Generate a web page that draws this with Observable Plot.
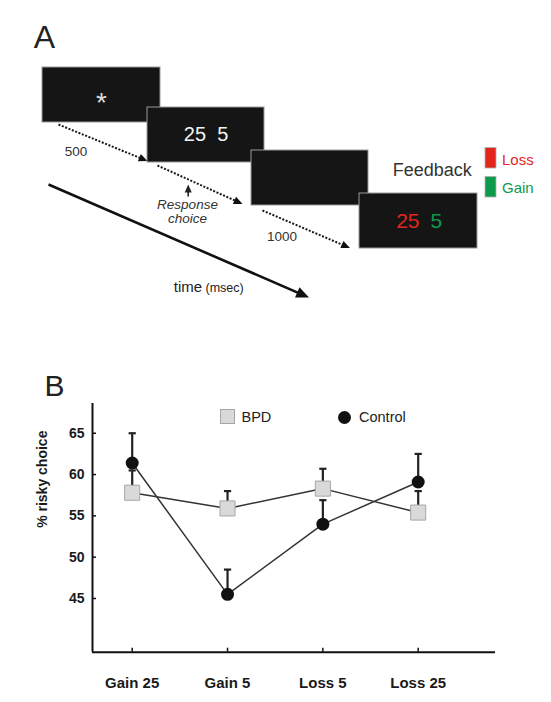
<!DOCTYPE html>
<html>
<head>
<meta charset="utf-8">
<script src="https://cdn.jsdelivr.net/npm/d3@7"></script>
<script src="https://cdn.jsdelivr.net/npm/@observablehq/plot@0.6"></script>
<style>
  body { margin: 0; background: #fff; font-family: "Liberation Sans", Arial, sans-serif; }
  #root { position: relative; width: 551px; height: 702px; overflow: hidden; background: #fff; }
  #panelA { position: absolute; left: 0; top: 0; }
  #panelB { position: absolute; left: 0; top: 330px; }
  .leg { position: absolute; font-size: 14.5px; color: #222; line-height: 1; }
  .sq { position: absolute; left: 220px; top: 409px; width: 13px; height: 13px; background: #d9d9d9; border: 1px solid #a6a6a6; }
  .ci { position: absolute; left: 338px; top: 410.5px; width: 13px; height: 13px; border-radius: 50%; background: #111; }
</style>
</head>
<body>
<div id="root">
  <div id="panelA"></div>
  <div id="panelB"></div>
  <div class="sq"></div>
  <div class="leg" style="left:241.5px; top:410px;">BPD</div>
  <div class="ci"></div>
  <div class="leg" style="left:359px; top:410px;">Control</div>
</div>
<script>
// ---------- Panel B data ----------
const conditions = ["Gain 25", "Gain 5", "Loss 5", "Loss 25"];
const bpdMean = [57.8, 55.9, 58.3, 55.4];
const bpdUpper = [60.5, 58.0, 60.7, 58.0];
const controlMean = [61.4, 45.5, 54.0, 59.1];
const controlUpper = [65.0, 48.5, 56.9, 62.5];
const yTicks = [45, 50, 55, 60, 65];

// ---------- Panel A schematic (figure layout units) ----------
const screens = [
  {x1: 42, y1: 67, x2: 160, y2: 122},
  {x1: 147, y1: 107, x2: 264, y2: 162},
  {x1: 251, y1: 150, x2: 368, y2: 205},
  {x1: 359, y1: 193, x2: 477, y2: 248}
];
const dottedArrows = [
  {x1: 58, y1: 124, x2: 147, y2: 160.5},
  {x1: 157, y1: 165, x2: 242, y2: 203.5},
  {x1: 262, y1: 210, x2: 349.5, y2: 247.5}
];
const timeArrow = [{x1: 48, y1: 184, x2: 308.5, y2: 297}];
const responseArrow = [{x1: 187.7, y1: 196, x2: 187.7, y2: 184}];
const stimulusTexts = [
  {s: 0, text: "*", color: "#dddddd", size: 28, dy: 8, anchor: "middle", dx: 0},
  {s: 1, text: "25\u00a0\u00a05", color: "#f2f2f2", size: 20, dy: 0, anchor: "middle", dx: 0},
  {s: 3, text: "25", color: "#e2261c", size: 21, dy: 0, anchor: "end", dx: 1},
  {s: 3, text: "5", color: "#0e9a4c", size: 21, dy: 0, anchor: "start", dx: 12}
];
const labelsA = [
  {x: 75.5, y: 151, text: "500", size: 13.5, anchor: "middle", color: "#333", style: "normal"},
  {x: 281.5, y: 236, text: "1000", size: 13.5, anchor: "middle", color: "#333", style: "normal"},
  {x: 187, y: 204.5, text: "Response", size: 13.5, anchor: "middle", color: "#333", style: "italic"},
  {x: 187, y: 218.5, text: "choice", size: 13.5, anchor: "middle", color: "#333", style: "italic"},
  {x: 431.7, y: 169.5, text: "Feedback", size: 18, anchor: "middle", color: "#333", style: "normal"},
  {x: 501.5, y: 159.5, text: "Loss", size: 15, anchor: "start", color: "#e2261c", style: "normal"},
  {x: 501.5, y: 187.5, text: "Gain", size: 15, anchor: "start", color: "#0e9a4c", style: "normal"},
  {x: 173.3, y: 287, text: "time", size: 15, anchor: "start", color: "#222", style: "normal"},
  {x: 205, y: 287.5, text: "(msec)", size: 12.5, anchor: "start", color: "#222", style: "normal"},
  {x: 44, y: 37, text: "A", size: 32, anchor: "middle", color: "#222", style: "normal"}
];
const feedbackKeys = [
  {x1: 485, y1: 147.5, x2: 496, y2: 168, color: "#e2261c"},
  {x1: 485, y1: 176.5, x2: 496, y2: 197, color: "#0e9a4c"}
];

const FONT = '"Liberation Sans", Arial, sans-serif';

// arrow head symbol: tip at origin, pointing to +x
const arrowHead = {
  draw(ctx, size) {
    const r = Math.sqrt(size / Math.PI);
    const L = 1.6 * r, W = 0.7 * r;
    ctx.moveTo(0, 0);
    ctx.lineTo(-L, -W);
    ctx.lineTo(-L, W);
    ctx.closePath();
  }
};
const capSymbol = {
  draw(ctx, size) {
    const r = Math.sqrt(size / Math.PI);
    ctx.moveTo(-r, 0);
    ctx.lineTo(r, 0);
  }
};
function withGeom(arr, r) {
  return arr.map(d => {
    const a = Math.atan2(d.y2 - d.y1, d.x2 - d.x1);
    const L = 1.6 * r;
    return {...d, angle: a * 180 / Math.PI, bx: d.x2 - (L - 0.5) * Math.cos(a), by: d.y2 - (L - 0.5) * Math.sin(a)};
  });
}
const dotted = withGeom(dottedArrows, 5.5);
const bigArrow = withGeom(timeArrow, 8);
const respArrow = withGeom(responseArrow, 5);
const stimRows = stimulusTexts.map(t => {
  const b = screens[t.s];
  return {...t, x: (b.x1 + b.x2) / 2, y: (b.y1 + b.y2) / 2};
});

const A = Plot.plot({
  width: 551, height: 330, margin: 0,
  x: {domain: [0, 551], range: [0, 551], axis: null},
  y: {domain: [0, 330], range: [0, 330], axis: null},
  style: {fontFamily: FONT, background: "transparent", overflow: "visible"},
  marks: [
    Plot.link(dotted, {x1: "x1", y1: "y1", x2: "bx", y2: "by", stroke: "#1a1a1a", strokeWidth: 2, strokeDasharray: "2,1.6"}),
    Plot.dot(dotted, {x: "x2", y: "y2", symbol: arrowHead, r: 5.5, rotate: "angle", fill: "#111", stroke: null}),
    Plot.link(bigArrow, {x1: "x1", y1: "y1", x2: "bx", y2: "by", stroke: "#111", strokeWidth: 2.6}),
    Plot.dot(bigArrow, {x: "x2", y: "y2", symbol: arrowHead, r: 8, rotate: "angle", fill: "#111", stroke: null}),
    Plot.link(respArrow, {x1: "x1", y1: "y1", x2: "bx", y2: "by", stroke: "#222", strokeWidth: 1.6}),
    Plot.dot(respArrow, {x: "x2", y: "y2", symbol: arrowHead, r: 5, rotate: "angle", fill: "#222", stroke: null}),
    Plot.rect(screens, {x1: "x1", y1: "y1", x2: "x2", y2: "y2", fill: "#151515", stroke: "#9a9a9a", strokeWidth: 1}),
    Plot.rect(feedbackKeys, {x1: "x1", y1: "y1", x2: "x2", y2: "y2", fill: "color", stroke: "#b0b0b0", strokeWidth: 0.8}),
    ...stimRows.map(t => Plot.text([t], {x: "x", y: "y", text: "text", fill: t.color, fontSize: t.size, dy: t.dy, dx: t.dx, textAnchor: t.anchor})),
    ...labelsA.map(l => Plot.text([l], {x: "x", y: "y", text: "text", fill: l.color, fontSize: l.size, textAnchor: l.anchor, fontStyle: l.style}))
  ]
});
document.getElementById("panelA").append(A);

const rowsB = conditions.map((c, i) => ({i, c, m: bpdMean[i], u: bpdUpper[i]}));
const rowsC = conditions.map((c, i) => ({i, c, m: controlMean[i], u: controlUpper[i]}));
const xDom = [-0.4165, 3.811];
const yDom = [38.5, 68.6];

const B = Plot.plot({
  width: 551, height: 372,
  marginLeft: 92, marginRight: 56, marginTop: 73, marginBottom: 50.3,
  x: {domain: xDom, axis: null},
  y: {domain: yDom, axis: null},
  style: {fontFamily: FONT, fontSize: "14px", color: "#1a1a1a", background: "transparent", overflow: "visible"},
  marks: [
    Plot.ruleX([xDom[0]], {stroke: "#111", strokeWidth: 2}),
    Plot.ruleY([yDom[0]], {stroke: "#111", strokeWidth: 2}),
    Plot.axisY({ticks: yTicks, tickSize: -4, tickFormat: () => "", label: null, strokeWidth: 1.5, stroke: "#111"}),
    Plot.axisY({ticks: yTicks, tickSize: 0, tickPadding: 8, label: null, fontWeight: "bold", fontSize: 14, fill: "#1a1a1a"}),
    Plot.axisX({ticks: [0, 1, 2, 3], tickSize: -4, tickFormat: () => "", label: null, strokeWidth: 1.5, stroke: "#111"}),
    Plot.axisX({ticks: [0, 1, 2, 3], tickSize: 0, tickPadding: 25, label: null, tickFormat: i => conditions[i], fontWeight: "bold", fontSize: 15, fill: "#1a1a1a"}),
    Plot.text(["% risky choice"], {frameAnchor: "left", rotate: -90, dx: -50, fontWeight: "bold", fontSize: 14, fill: "#1a1a1a"}),
    Plot.text(["B"], {frameAnchor: "top-left", dx: -48, dy: -29, fontSize: 30, fill: "#222"}),
    Plot.line(rowsB, {x: "i", y: "m", stroke: "#333", strokeWidth: 1.5}),
    Plot.line(rowsC, {x: "i", y: "m", stroke: "#333", strokeWidth: 1.5}),
    Plot.ruleX(rowsB, {x: "i", y1: "m", y2: "u", stroke: "#222", strokeWidth: 2.2}),
    Plot.dot(rowsB, {x: "i", y: "u", symbol: capSymbol, r: 3.6, stroke: "#222", strokeWidth: 2.2}),
    Plot.ruleX(rowsC, {x: "i", y1: "m", y2: "u", stroke: "#222", strokeWidth: 2.2}),
    Plot.dot(rowsC, {x: "i", y: "u", symbol: capSymbol, r: 3.6, stroke: "#222", strokeWidth: 2.2}),
    Plot.dot(rowsB, {x: "i", y: "m", symbol: "square", r: 8.5, fill: "#d9d9d9", stroke: "#a6a6a6", strokeWidth: 1}),
    Plot.dot(rowsC, {x: "i", y: "m", r: 6.5, fill: "#111", stroke: null})
  ]
});
document.getElementById("panelB").append(B);
</script>
</body>
</html>
